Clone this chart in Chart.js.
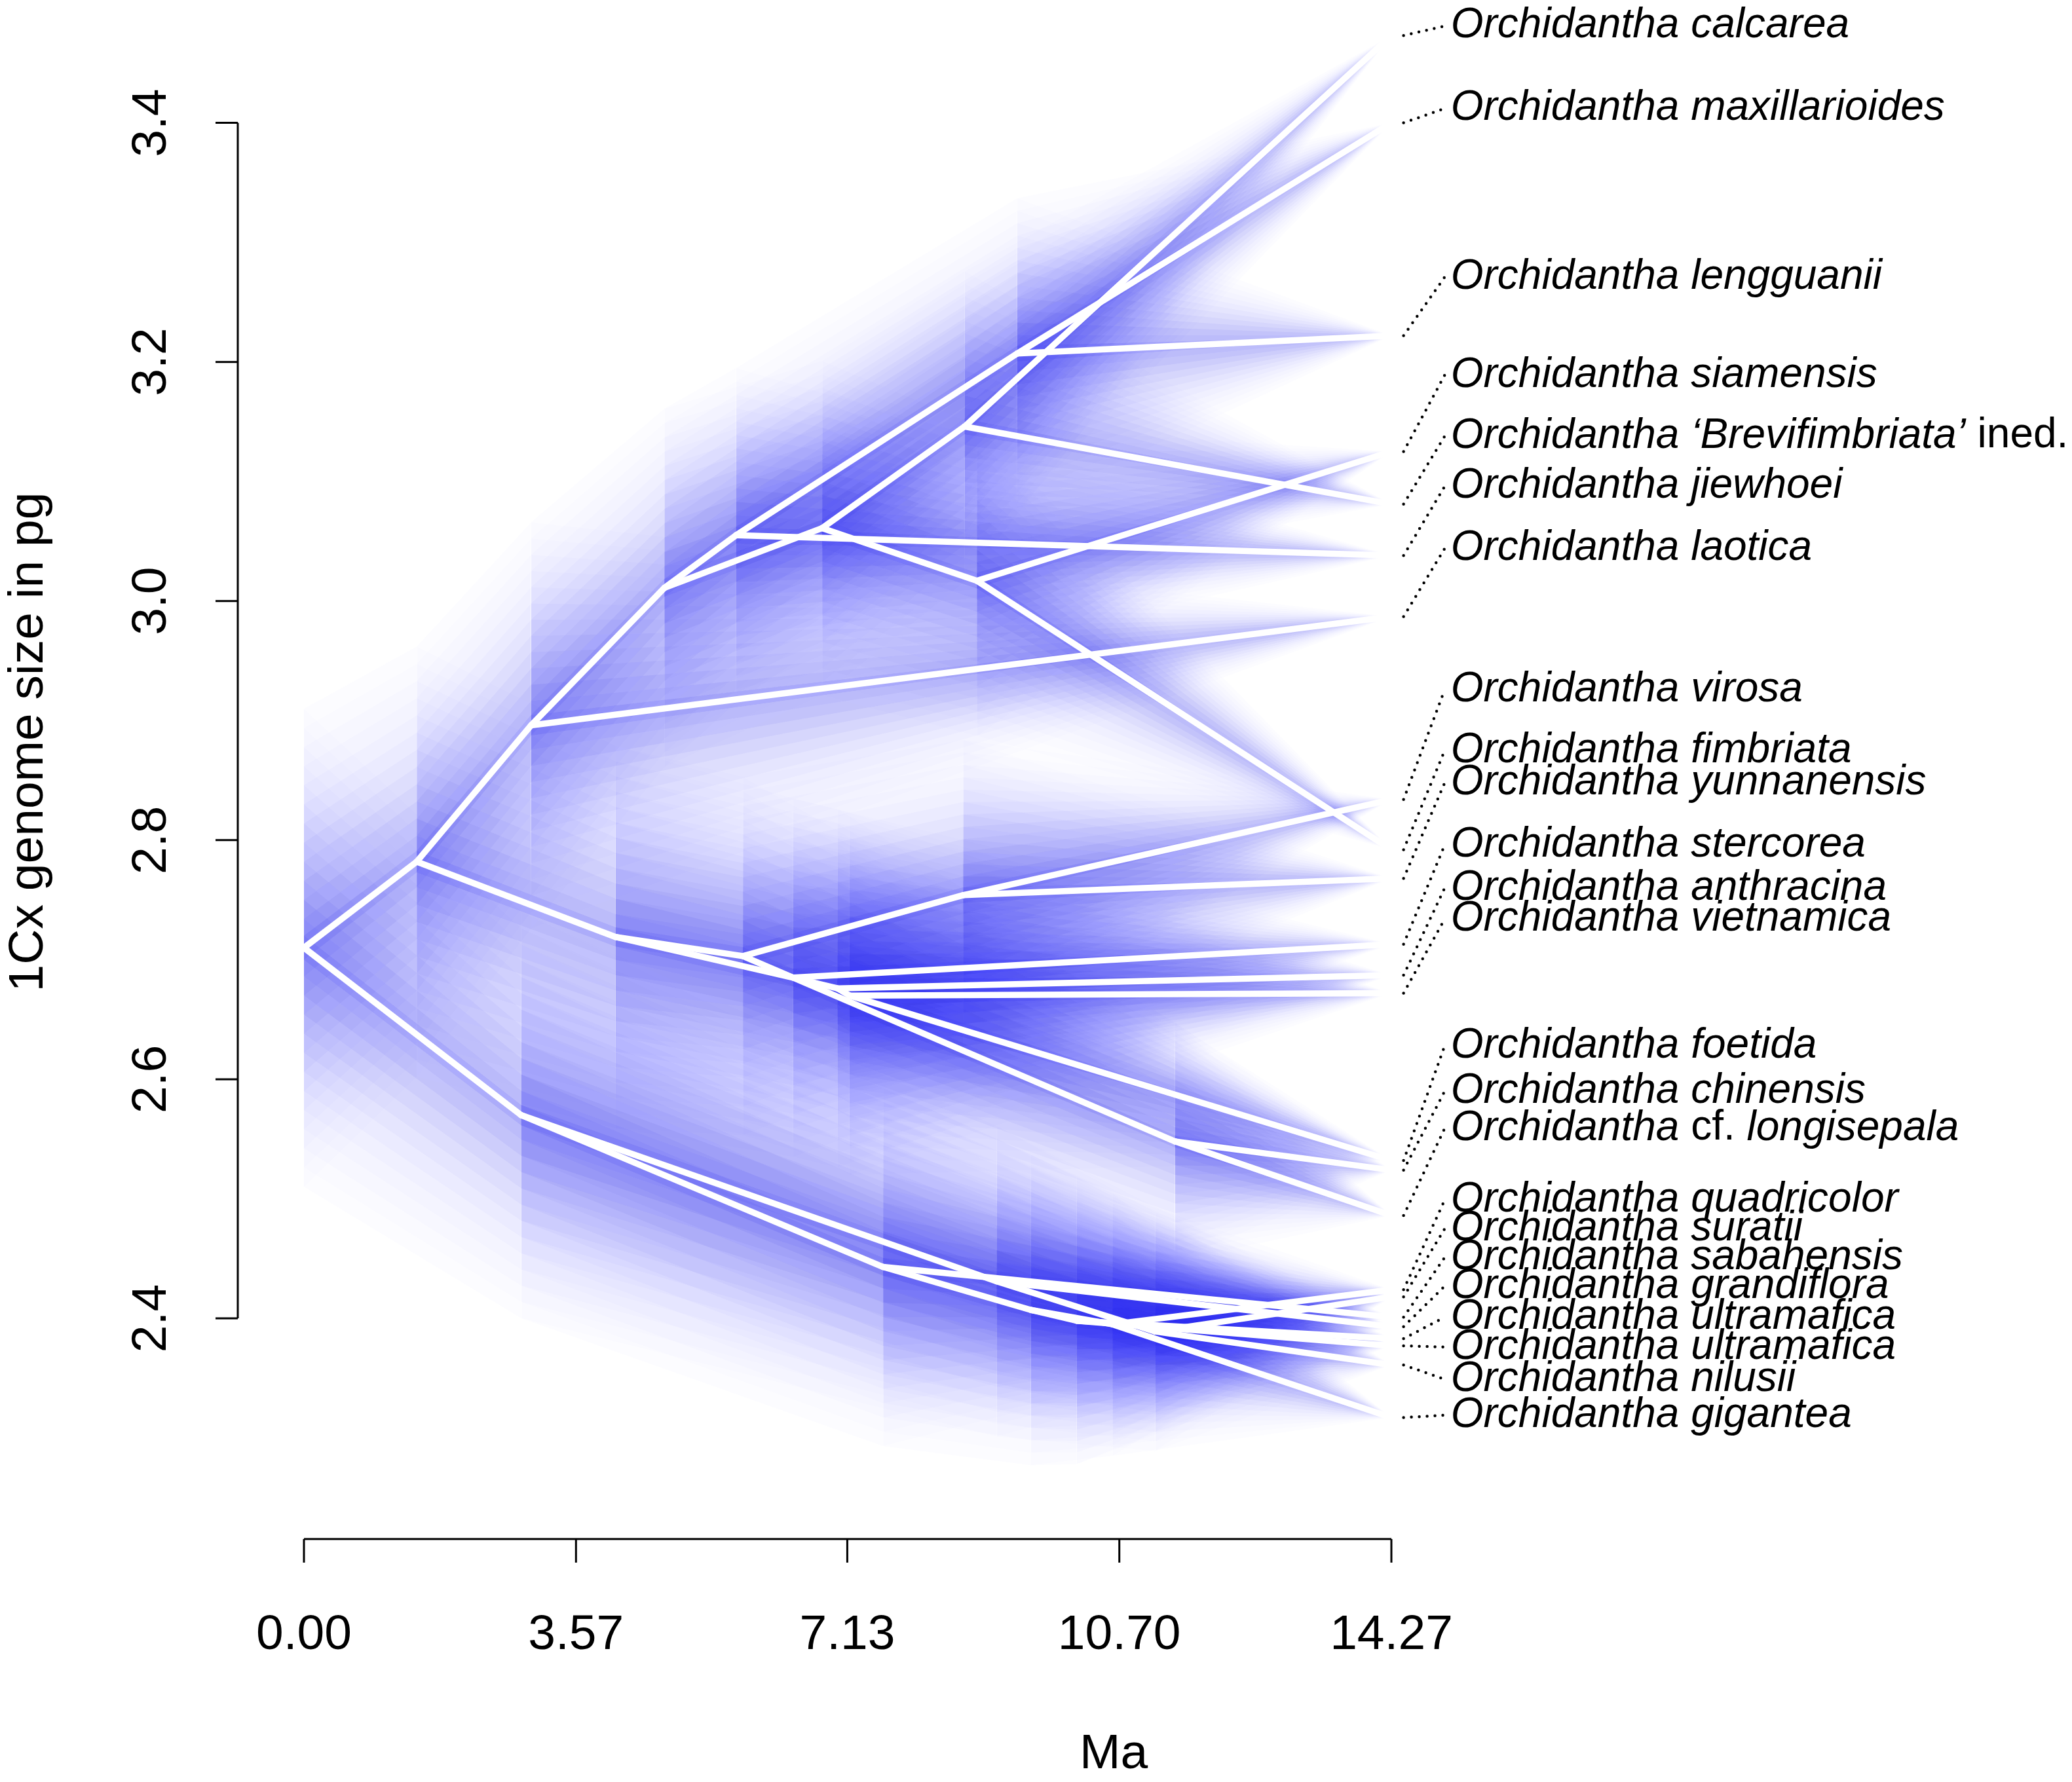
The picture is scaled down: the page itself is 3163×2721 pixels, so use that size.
<!DOCTYPE html>
<html>
<head>
<meta charset="utf-8">
<script src="https://cdn.jsdelivr.net/npm/chart.js@4.4.1/dist/chart.umd.min.js"></script>
<style>
  html, body { margin: 0; padding: 0; background: #fff; }
  canvas { display: block; }
</style>
</head>
<body>
<canvas id="tree" width="3163" height="2721"></canvas>
<script>
// Tips, top to bottom as labelled
const tipIds = ['calcarea', 'maxillarioides', 'lengguanii', 'siamensis', 'brevifimbriata', 'jiewhoei', 'laotica',
  'virosa', 'fimbriata', 'yunnanensis', 'stercorea', 'anthracina', 'vietnamica',
  'foetida', 'chinensis', 'longisepala',
  'quadricolor', 'suratii', 'sabahensis', 'grandiflora', 'ultramafica1', 'ultramafica2', 'nilusii', 'gigantea'];
const tipNames = ['Orchidantha calcarea', 'Orchidantha maxillarioides', 'Orchidantha lengguanii', 'Orchidantha siamensis',
  'Orchidantha \u2018Brevifimbriata\u2019 ined.', 'Orchidantha jiewhoei', 'Orchidantha laotica',
  'Orchidantha virosa', 'Orchidantha fimbriata', 'Orchidantha yunnanensis', 'Orchidantha stercorea',
  'Orchidantha anthracina', 'Orchidantha vietnamica',
  'Orchidantha foetida', 'Orchidantha chinensis', 'Orchidantha cf. longisepala',
  'Orchidantha quadricolor', 'Orchidantha suratii', 'Orchidantha sabahensis', 'Orchidantha grandiflora',
  'Orchidantha ultramafica', 'Orchidantha ultramafica', 'Orchidantha nilusii', 'Orchidantha gigantea'];
// 1Cx genome size (pg) at the tips
const tipSize = [3.473, 3.400, 3.222, 3.125, 3.081, 3.038, 2.987,
  2.834, 2.792, 2.768, 2.713, 2.687, 2.672,
  2.532, 2.524, 2.486,
  2.424, 2.418, 2.401, 2.393, 2.383, 2.377, 2.361, 2.317];
// where the spread-out labels sit on the size axis
const labelAt = [3.481, 3.412, 3.271, 3.189, 3.138, 3.096, 3.044,
  2.926, 2.875, 2.848, 2.796, 2.760, 2.734,
  2.628, 2.590, 2.559,
  2.499, 2.475, 2.451, 2.427, 2.401, 2.376, 2.349, 2.319];
const treeAge = 14.27;

// Internal nodes: age (Ma from root), reconstructed size, and spread of the density cloud
const nodeNames = ['R', 'A', 'C', 'E', 'H', 'I', 'J', 'K', 'L',
  'D', 'N1', 'N2', 'N3', 'N4', 'N5', 'Q',
  'B', 'B1', 'B2', 'B3', 'B4', 'B5', 'B6'];
const nodeAge = [0, 1.48, 2.98, 4.73, 5.67, 6.80, 8.67, 8.83, 9.36,
  4.09, 5.76, 8.65, 6.42, 7.00, 7.16, 11.43,
  2.85, 7.60, 9.09, 9.54, 10.61, 10.14, 11.17];
const nodeSize = [2.710, 2.782, 2.896, 3.011, 3.055, 3.061, 3.146, 3.017, 3.207,
  2.719, 2.703, 2.754, 2.685, 2.676, 2.670, 2.548,
  2.570, 2.443, 2.431, 2.407, 2.395, 2.398, 2.389];
const nodeSpread = [0.20, 0.18, 0.17, 0.15, 0.14, 0.14, 0.13, 0.13, 0.13,
  0.16, 0.15, 0.13, 0.15, 0.15, 0.15, 0.10,
  0.17, 0.15, 0.13, 0.13, 0.11, 0.12, 0.10];

// Branches
const edgeParent = ['R', 'R', 'A', 'A', 'C', 'C', 'E', 'E', 'H', 'H', 'I', 'I', 'J', 'J', 'K', 'K', 'L', 'L',
  'D', 'D', 'N1', 'N1', 'N2', 'N2', 'N3', 'N3', 'N4', 'N4', 'N5', 'N5', 'Q', 'Q',
  'B', 'B', 'B1', 'B1', 'B2', 'B2', 'B3', 'B3', 'B4', 'B4', 'B5', 'B5', 'B6', 'B6'];
const edgeChild = ['A', 'B', 'C', 'D', 'E', 'laotica', 'H', 'I', 'L', 'jiewhoei', 'J', 'K',
  'calcarea', 'brevifimbriata', 'siamensis', 'fimbriata', 'maxillarioides', 'lengguanii',
  'N1', 'N3', 'N2', 'Q', 'virosa', 'yunnanensis', 'stercorea', 'N4', 'anthracina', 'N5',
  'vietnamica', 'foetida', 'chinensis', 'longisepala',
  'B1', 'B2', 'sabahensis', 'B3', 'grandiflora', 'B6', 'B4', 'B5', 'quadricolor', 'gigantea',
  'ultramafica1', 'ultramafica2', 'suratii', 'nilusii'];

// Axes
const xTicks = [0, 3.57, 7.13, 10.70, 14.27];
const xTickLabels = ['0.00', '3.57', '7.13', '10.70', '14.27'];
const yTicks = [2.4, 2.6, 2.8, 3.0, 3.2, 3.4];
const yTickLabels = ['2.4', '2.6', '2.8', '3.0', '3.2', '3.4'];

const FONT = '"Liberation Sans", Arial, Helvetica, sans-serif';
// nested bands, outermost first; inner ones stronger so the cloud fades out
const layers = [1.0, 0.92, 0.84, 0.76, 0.68, 0.6, 0.52, 0.44, 0.36, 0.28, 0.2, 0.12, 0.05];
const layerAlpha = [0.010, 0.012, 0.014, 0.017, 0.020, 0.023, 0.027, 0.031, 0.036, 0.041, 0.047, 0.054, 0.11];

function lookup(name) {
  const n = nodeNames.indexOf(name);
  if (n >= 0) return { age: nodeAge[n], size: nodeSize[n], spread: nodeSpread[n] };
  const t = tipIds.indexOf(name);
  return { age: treeAge, size: tipSize[t], spread: 0 };
}

const datasets = [];

// white branches first so they sit on top
edgeParent.forEach((p, i) => {
  const a = lookup(p), b = lookup(edgeChild[i]);
  datasets.push({
    data: [{ x: a.age, y: a.size }, { x: b.age, y: b.size }],
    borderColor: '#ffffff', borderWidth: 9.5, borderCapStyle: 'round',
    showLine: true, pointRadius: 0, fill: false, clip: false
  });
});

// dotted leaders from tips to labels
tipIds.forEach((id, i) => {
  datasets.push({
    data: [{ x: 14.43, y: tipSize[i] }, { x: 14.97, y: labelAt[i] }],
    borderColor: '#000', borderWidth: 4.5, borderDash: [0, 12], borderCapStyle: 'round',
    showLine: true, pointRadius: 0, fill: false, clip: false
  });
});

// density cloud around each branch
edgeParent.forEach((p, i) => {
  const a = lookup(p), b = lookup(edgeChild[i]);
  layers.forEach((f, k) => {
    datasets.push({
      data: [
        { x: a.age, y: a.size + a.spread * f },
        { x: b.age, y: b.size + b.spread * f },
        { x: b.age, y: b.size - b.spread * f },
        { x: a.age, y: a.size - a.spread * f }
      ],
      borderWidth: 0, borderColor: 'rgba(0,0,0,0)',
      backgroundColor: 'rgba(40, 40, 235, ' + layerAlpha[k] + ')',
      showLine: true, pointRadius: 0, fill: 'shape', clip: false
    });
  });
});

function drawLabel(ctx, text, x, y) {
  const upright = ['ined.', 'cf.'];
  const words = text.split(' ');
  ctx.font = 'italic 64px ' + FONT;
  const space = ctx.measureText(' ').width;
  let cx = x;
  words.forEach((w, k) => {
    ctx.font = (upright.includes(w) ? '' : 'italic ') + '64px ' + FONT;
    ctx.fillText(w, cx, y);
    cx += ctx.measureText(w).width + (k < words.length - 1 ? space : 0);
  });
}

const decorations = {
  id: 'decorations',
  afterDraw(chart) {
    const { ctx, chartArea, scales: { x, y } } = chart;
    ctx.save();
    ctx.strokeStyle = '#000';
    ctx.fillStyle = '#000';
    ctx.lineWidth = 3;

    // y axis, offset to the left as in base R
    const ax = chartArea.left - 101;
    ctx.beginPath();
    ctx.moveTo(ax, y.getPixelForValue(yTicks[0]));
    ctx.lineTo(ax, y.getPixelForValue(yTicks[yTicks.length - 1]));
    yTicks.forEach(v => {
      const py = y.getPixelForValue(v);
      ctx.moveTo(ax, py);
      ctx.lineTo(ax - 34, py);
    });
    // x axis
    const ay = chartArea.bottom;
    ctx.moveTo(x.getPixelForValue(xTicks[0]), ay);
    ctx.lineTo(x.getPixelForValue(xTicks[xTicks.length - 1]), ay);
    xTicks.forEach(v => {
      const px = x.getPixelForValue(v);
      ctx.moveTo(px, ay);
      ctx.lineTo(px, ay + 36);
    });
    ctx.stroke();

    ctx.font = '75px ' + FONT;
    ctx.textAlign = 'center';
    ctx.textBaseline = 'middle';
    yTicks.forEach((v, i) => {
      ctx.save();
      ctx.translate(ax - 131, y.getPixelForValue(v));
      ctx.rotate(-Math.PI / 2);
      ctx.fillText(yTickLabels[i], 0, 0);
      ctx.restore();
    });
    xTicks.forEach((v, i) => {
      ctx.fillText(xTickLabels[i], x.getPixelForValue(v), ay + 147);
    });

    // axis titles
    ctx.fillText('Ma', 1700, ay + 329);
    ctx.save();
    ctx.translate(44, 1133);
    ctx.rotate(-Math.PI / 2);
    ctx.fillText('1Cx genome size in pg', 0, 0);
    ctx.restore();

    // species labels
    ctx.textAlign = 'left';
    tipNames.forEach((name, i) => {
      drawLabel(ctx, name, x.getPixelForValue(15.05), y.getPixelForValue(labelAt[i]));
    });
    ctx.restore();
  }
};

new Chart(document.getElementById('tree').getContext('2d'), {
  type: 'scatter',
  data: { datasets },
  options: {
    responsive: false,
    animation: false,
    events: [],
    layout: { padding: { left: 464, right: 1039, top: 5, bottom: 371 } },
    elements: { line: { tension: 0 } },
    scales: {
      x: { type: 'linear', min: 0, max: treeAge, display: false },
      y: { type: 'linear', min: 2.2154, max: 3.5, display: false }
    },
    plugins: {
      legend: { display: false },
      tooltip: { enabled: false }
    }
  },
  plugins: [decorations]
});
</script>
</body>
</html>
